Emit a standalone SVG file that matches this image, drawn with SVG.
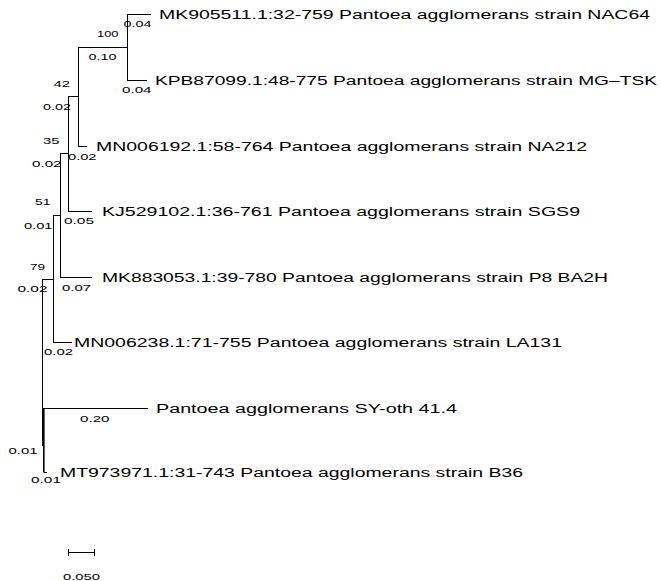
<svg xmlns="http://www.w3.org/2000/svg" width="661" height="581" viewBox="0 0 661 581">
<style>
.ln{stroke:#000;stroke-width:1;fill:none}
.lf{font-family:"Liberation Sans",Arial,sans-serif;font-size:12px;fill:#000}
.bl{font-family:"Liberation Sans",Arial,sans-serif;font-size:9px;fill:#000}
</style>
<rect width="661" height="581" fill="#fff"/>
<g id="connectors" class="ln">
<path d="M127 14.5H151M127 80.5H147M127.5 14V81M78 47.5H127.5M78.5 47V146.5M78 146.5H87"/>
<path d="M68 96.5H78.5M68.5 96V211.5M68 211.5H92M60 153.5H68.5M60.5 153V277.5M60 277.5H92"/>
<path d="M53 215.5H60.5M53.5 215V342.5M53 342.5H72M42 279.5H53.5M42.5 279V446M42.5 440.5H44M44 408.5H148M44 472.5H47"/>
<path d="M43.8 408V472.5" stroke-width="1.6"/>
<path d="M68 552.5H95M68.5 549V556M94.5 549V556"/>
</g>
<g id="branch-labels" class="bl">
<text x="123.5" y="26.5" textLength="28" lengthAdjust="spacingAndGlyphs">0.04</text>
<text x="97" y="36.5" textLength="21.5" lengthAdjust="spacingAndGlyphs">100</text>
<text x="88.5" y="60" textLength="28" lengthAdjust="spacingAndGlyphs">0.10</text>
<text x="53.5" y="87" textLength="16.5" lengthAdjust="spacingAndGlyphs">42</text>
<text x="122" y="92.5" textLength="29.5" lengthAdjust="spacingAndGlyphs">0.04</text>
<text x="43" y="109.5" textLength="28" lengthAdjust="spacingAndGlyphs">0.02</text>
<text x="43" y="144" textLength="16.5" lengthAdjust="spacingAndGlyphs">35</text>
<text x="68" y="160" textLength="28.5" lengthAdjust="spacingAndGlyphs">0.02</text>
<text x="32" y="166.5" textLength="29.5" lengthAdjust="spacingAndGlyphs">0.02</text>
<text x="35" y="205" textLength="15.5" lengthAdjust="spacingAndGlyphs">51</text>
<text x="64" y="224" textLength="30" lengthAdjust="spacingAndGlyphs">0.05</text>
<text x="24" y="228.5" textLength="28.5" lengthAdjust="spacingAndGlyphs">0.01</text>
<text x="30" y="269.5" textLength="15" lengthAdjust="spacingAndGlyphs">79</text>
<text x="17.5" y="291.5" textLength="30" lengthAdjust="spacingAndGlyphs">0.02</text>
<text x="62" y="290.5" textLength="29" lengthAdjust="spacingAndGlyphs">0.07</text>
<text x="44" y="355" textLength="29" lengthAdjust="spacingAndGlyphs">0.02</text>
<text x="80" y="421.5" textLength="29.5" lengthAdjust="spacingAndGlyphs">0.20</text>
<text x="8.5" y="454" textLength="29" lengthAdjust="spacingAndGlyphs">0.01</text>
<text x="31" y="483" textLength="30" lengthAdjust="spacingAndGlyphs">0.01</text>
<text x="63" y="580" textLength="37" lengthAdjust="spacingAndGlyphs">0.050</text>
</g>
<g id="MK905511" class="lf"><text x="159" y="19" textLength="491" lengthAdjust="spacingAndGlyphs">MK905511.1:32-759 Pantoea agglomerans strain NAC64</text></g>
<g id="KPB87099" class="lf"><text x="155" y="85" textLength="502" lengthAdjust="spacingAndGlyphs">KPB87099.1:48-775 Pantoea agglomerans strain MG–TSK</text></g>
<g id="MN006192" class="lf"><text x="96" y="150.5" textLength="491" lengthAdjust="spacingAndGlyphs">MN006192.1:58-764 Pantoea agglomerans strain NA212</text></g>
<g id="KJ529102" class="lf"><text x="102" y="216" textLength="478" lengthAdjust="spacingAndGlyphs">KJ529102.1:36-761 Pantoea agglomerans strain SGS9</text></g>
<g id="MK883053" class="lf"><text x="102" y="281.5" textLength="506" lengthAdjust="spacingAndGlyphs">MK883053.1:39-780 Pantoea agglomerans strain P8 BA2H</text></g>
<g id="MN006238" class="lf"><text x="74" y="347" textLength="488" lengthAdjust="spacingAndGlyphs">MN006238.1:71-755 Pantoea agglomerans strain LA131</text></g>
<g id="SY-oth-41.4" class="lf"><text x="156" y="413" textLength="301" lengthAdjust="spacingAndGlyphs">Pantoea agglomerans SY-oth 41.4</text></g>
<g id="MT973971" class="lf"><text x="60" y="476.5" textLength="463" lengthAdjust="spacingAndGlyphs">MT973971.1:31-743 Pantoea agglomerans strain B36</text></g>
</svg>
